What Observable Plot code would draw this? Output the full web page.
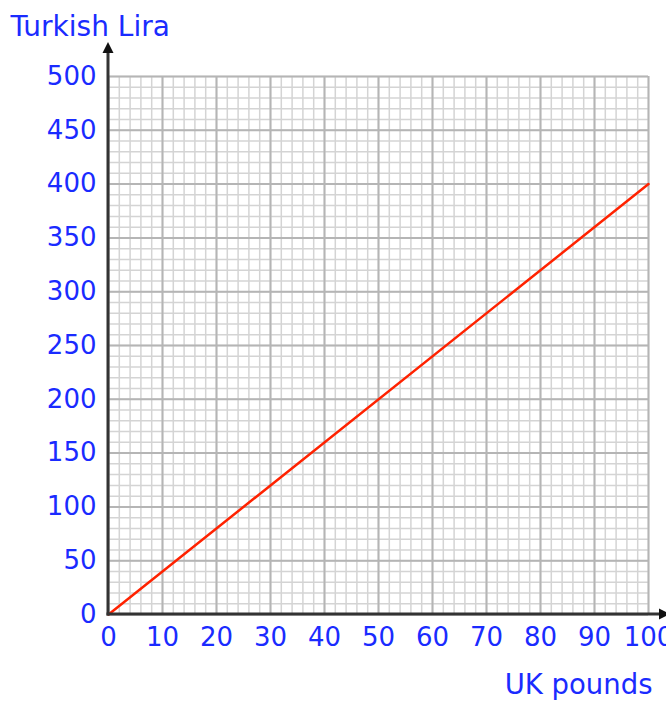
<!DOCTYPE html>
<html><head><meta charset="utf-8">
<script src="https://cdn.jsdelivr.net/npm/d3@7"></script>
<script src="https://cdn.jsdelivr.net/npm/@observablehq/plot@0.6"></script>
<style>body{margin:0;background:#fff}#chart svg{overflow:visible}</style>
</head><body><div id="chart"></div>
<script>
const xTicks = [0, 10, 20, 30, 40, 50, 60, 70, 80, 90, 100];
const yTicks = [0, 50, 100, 150, 200, 250, 300, 350, 400, 450, 500];
const pounds = [0, 100];
const lira = [0, 400];
const xTitle = "UK pounds";
const yTitle = "Turkish Lira";

const blue = "#1a2bff";
const font = "'DejaVu Sans', Lato, sans-serif";

const lineData = pounds.map((p, i) => ({pounds: p, lira: lira[i]}));

function axisArrows(index, scales, values, dims) {
  const g = d3.create("svg:g");
  const x0 = scales.x(0), y0 = scales.y(0);
  const top = dims.marginTop - 34;
  const right = dims.width + 4;
  g.append("line").attr("x1", x0).attr("x2", x0).attr("y1", y0 + 1.5).attr("y2", top + 8)
    .attr("stroke", "#333").attr("stroke-width", 3);
  g.append("path").attr("d", `M${x0},${top}L${x0 - 5.5},${top + 11}L${x0 + 5.5},${top + 11}Z`).attr("fill", "#111");
  g.append("line").attr("x1", x0 - 1.5).attr("x2", right - 8).attr("y1", y0).attr("y2", y0)
    .attr("stroke", "#333").attr("stroke-width", 3);
  g.append("path").attr("d", `M${right},${y0}L${right - 11},${y0 - 5.5}L${right - 11},${y0 + 5.5}Z`).attr("fill", "#111");
  return g.node();
}

const chart = Plot.plot({
  width: 666,
  height: 702,
  marginLeft: 108,
  marginRight: 18,
  marginTop: 76,
  marginBottom: 88,
  style: {fontFamily: font, background: "#fff"},
  x: {domain: [0, 100]},
  y: {domain: [0, 500]},
  marks: [
    Plot.gridX({interval: 2, stroke: "#d4d4d4", strokeOpacity: 1, strokeWidth: 1.5}),
    Plot.gridY({interval: 10, stroke: "#d4d4d4", strokeOpacity: 1, strokeWidth: 1.5}),
    Plot.gridX(xTicks, {stroke: "#b5b5b5", strokeOpacity: 1, strokeWidth: 2}),
    Plot.gridY(yTicks, {stroke: "#b5b5b5", strokeOpacity: 1, strokeWidth: 2}),
    Plot.line(lineData, {x: "pounds", y: "lira", stroke: "#ff2200", strokeWidth: 2.5}),
    axisArrows,
    Plot.axisX(xTicks, {tickSize: 0, tickPadding: 13, fontSize: 26, fill: blue, label: null, tickFormat: d => String(d)}),
    Plot.axisY(yTicks, {tickSize: 0, tickPadding: 12, fontSize: 26, fill: blue, label: null, tickFormat: d => String(d)}),
    Plot.text([yTitle], {frameAnchor: "top-left", dx: -98, dy: -49, lineAnchor: "middle", textAnchor: "start", fontSize: 28, fill: blue}),
    Plot.text([xTitle], {frameAnchor: "bottom-right", dx: 4, dy: 71, lineAnchor: "middle", textAnchor: "end", fontSize: 27.5, fill: blue})
  ]
});
document.getElementById("chart").append(chart);
</script>
</body></html>
